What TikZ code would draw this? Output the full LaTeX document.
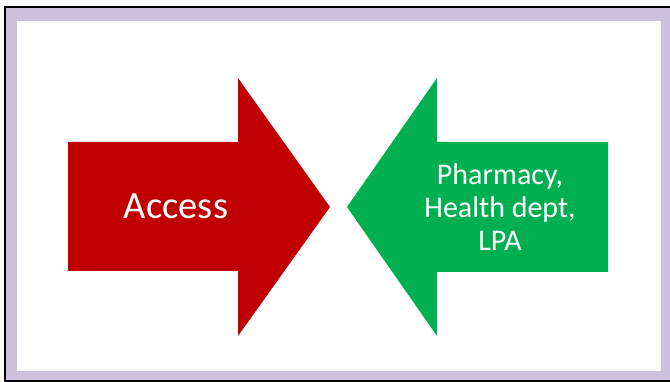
\documentclass[tikz,border=0pt]{standalone}
\usepackage{fontspec}
\setmainfont{Carlito}
\usepackage{xcolor}
\usetikzlibrary{positioning}
\definecolor{accessRed}{RGB}{192, 0, 0}
\definecolor{partnerGreen}{RGB}{0, 176, 80}
\definecolor{frameLilac}{RGB}{204, 193, 222}

\begin{document}
\begin{tikzpicture}[x=1pt, y=-1pt]
                \tikzstyle{label} = [text=white, align=center, inner sep=0pt]

                \useasboundingbox (0,0) rectangle (670,382);
                % frame
                \fill[frameLilac] (6,8) rectangle (672,380);
                \fill[white] (17,21) rectangle (661,371);
                \draw[black, line width=2pt] (5,7.5) rectangle (674,381);

                % arrow pointing right
                \fill[accessRed] (68,142) -- (238,142) -- (238,78) -- (330,207) -- (238,336) -- (238,271) -- (68,271) -- cycle;
                % arrow pointing left
                \fill[partnerGreen] (608,142) -- (437,142) -- (437,78) -- (347,207) -- (437,336) -- (437,272) -- (608,272) -- cycle;

                \node[label, font=\fontsize{38.5}{44}\selectfont] (access) at (176,206) {Access};
                \node[label, font=\fontsize{30}{33}\selectfont] (partners) at (500,207) {Pharmacy,\\Health dept,\\LPA};
            \end{tikzpicture}
\end{document}
